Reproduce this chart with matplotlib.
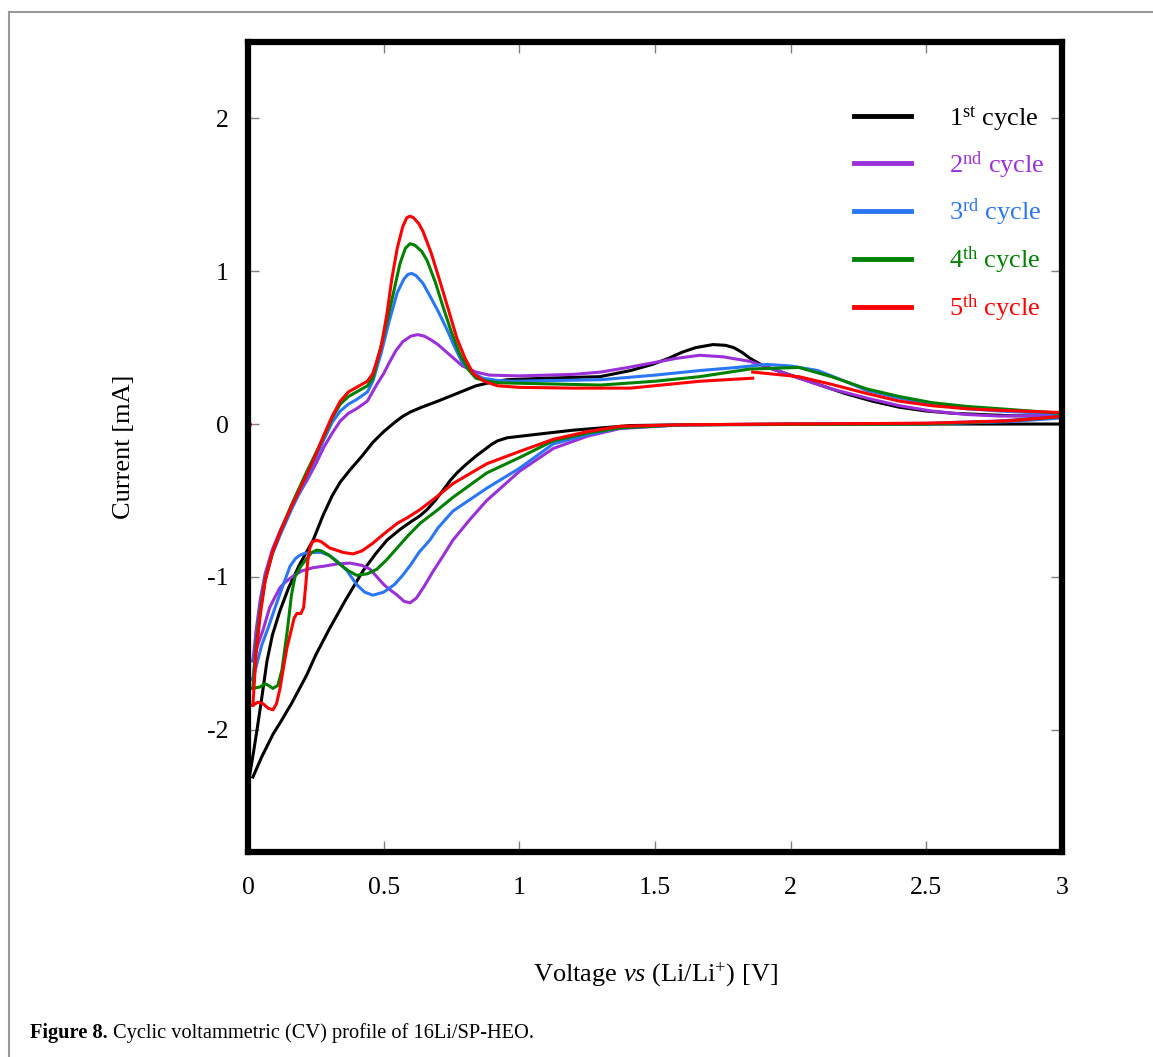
import numpy as np
import matplotlib
matplotlib.use("Agg")
import matplotlib.pyplot as plt
from matplotlib.lines import Line2D

plt.rcParams['font.family'] = ['Liberation Serif', 'DejaVu Serif']
plt.rcParams['mathtext.fontset'] = 'custom'
plt.rcParams['mathtext.rm'] = 'Liberation Serif'
plt.rcParams['mathtext.it'] = 'Liberation Serif:italic'
plt.rcParams['axes.unicode_minus'] = False

# ---- data (voltage [V], current [mA]) ----
# each cycle: anodic sweep 0 -> 3 V, then cathodic sweep 3 -> 0 V
v1 = [0.005, 0.02, 0.035, 0.05, 0.07, 0.09, 0.118, 0.15, 0.19, 0.24, 0.276, 0.31, 0.34, 0.376, 0.42,
      0.46, 0.50, 0.54, 0.57, 0.60, 0.64, 0.70, 0.77, 0.84, 0.90, 0.955, 1.1, 1.297, 1.41, 1.49, 1.55,
      1.60, 1.65, 1.714, 1.76, 1.79, 1.82, 1.85, 1.9, 2.0, 2.1, 2.2, 2.3, 2.4, 2.5, 2.6, 2.8, 3.0,
      3.0, 2.5, 2.0, 1.6, 1.41, 1.2, 1.1, 0.955, 0.92, 0.90, 0.87, 0.84, 0.80, 0.77, 0.745, 0.72, 0.69,
      0.66, 0.634, 0.60, 0.56, 0.512, 0.47, 0.424, 0.36, 0.30, 0.25, 0.217, 0.16, 0.12, 0.092, 0.05, 0.018]
i1 = [-2.31, -2.15, -1.98, -1.80, -1.55, -1.38, -1.22, -1.07, -0.92, -0.76, -0.60, -0.47, -0.38, -0.30, -0.21,
      -0.12, -0.05, 0.01, 0.05, 0.08, 0.11, 0.15, 0.20, 0.25, 0.275, 0.29, 0.30, 0.31, 0.35, 0.39, 0.43,
      0.47, 0.50, 0.52, 0.515, 0.50, 0.47, 0.43, 0.38, 0.32, 0.26, 0.20, 0.15, 0.11, 0.085, 0.07, 0.055, 0.05,
      0.0, 0.0, 0.0, -0.005, -0.01, -0.04, -0.06, -0.09, -0.11, -0.13, -0.17, -0.21, -0.27, -0.32, -0.37, -0.43, -0.50,
      -0.56, -0.60, -0.64, -0.69, -0.76, -0.85, -0.96, -1.15, -1.34, -1.51, -1.64, -1.83, -1.95, -2.03, -2.18, -2.31]

v2 = [0.018, 0.03, 0.045, 0.063, 0.09, 0.118, 0.16, 0.217, 0.25, 0.28, 0.31, 0.34, 0.37, 0.40, 0.44,
      0.475, 0.50, 0.52, 0.545, 0.571, 0.60, 0.625, 0.65, 0.675, 0.70, 0.745, 0.79, 0.84, 0.89, 1.0, 1.1,
      1.2, 1.30, 1.40, 1.49, 1.58, 1.665, 1.75, 1.85, 1.95, 2.03, 2.15, 2.28, 2.40, 2.52, 2.65, 2.77, 2.9, 3.0,
      3.0, 2.77, 2.5, 2.0, 1.6, 1.37, 1.25, 1.125, 1.0, 0.88, 0.82, 0.755, 0.72, 0.68, 0.65, 0.62, 0.597,
      0.575, 0.55, 0.52, 0.50, 0.47, 0.45, 0.42, 0.376, 0.33, 0.28, 0.24, 0.20, 0.17, 0.14, 0.118, 0.10,
      0.08, 0.055, 0.035, 0.018]
i2 = [-1.55, -1.35, -1.15, -0.98, -0.82, -0.70, -0.54, -0.37, -0.26, -0.15, -0.06, 0.02, 0.07, 0.10, 0.15,
      0.26, 0.33, 0.40, 0.48, 0.54, 0.575, 0.585, 0.575, 0.55, 0.52, 0.45, 0.38, 0.34, 0.32, 0.315, 0.32,
      0.325, 0.34, 0.37, 0.40, 0.43, 0.45, 0.44, 0.41, 0.35, 0.30, 0.23, 0.17, 0.12, 0.085, 0.062, 0.052, 0.055, 0.065,
      0.05, 0.02, 0.005, 0.0, -0.005, -0.03, -0.08, -0.16, -0.31, -0.50, -0.62, -0.76, -0.86, -0.97, -1.06, -1.14, -1.17,
      -1.16, -1.12, -1.08, -1.05, -0.99, -0.95, -0.925, -0.91, -0.915, -0.93, -0.94, -0.96, -0.99, -1.03, -1.07, -1.13,
      -1.20, -1.35, -1.45, -1.55]

v3 = [0.018, 0.03, 0.045, 0.063, 0.09, 0.12, 0.16, 0.217, 0.25, 0.28, 0.31, 0.34, 0.37, 0.40, 0.44,
      0.46, 0.49, 0.52, 0.55, 0.575, 0.59, 0.604, 0.62, 0.645, 0.67, 0.70, 0.733, 0.76, 0.79, 0.83, 0.866,
      0.92, 0.977, 1.30, 1.50, 1.665, 1.80, 1.91, 2.0, 2.10, 2.20, 2.28, 2.40, 2.52, 2.65, 2.77, 3.0,
      3.0, 2.8, 2.5, 1.6, 1.37, 1.25, 1.125, 1.0, 0.88, 0.755, 0.70, 0.67, 0.63, 0.60, 0.57, 0.54, 0.50,
      0.46, 0.43, 0.40, 0.365, 0.33, 0.30, 0.27, 0.24, 0.21, 0.19, 0.175, 0.155, 0.13, 0.10, 0.075, 0.05, 0.018]
i3 = [-1.67, -1.45, -1.22, -1.02, -0.85, -0.72, -0.56, -0.35, -0.22, -0.10, 0.01, 0.085, 0.13, 0.16, 0.21,
      0.28, 0.46, 0.67, 0.86, 0.95, 0.98, 0.985, 0.97, 0.92, 0.84, 0.74, 0.62, 0.51, 0.40, 0.33, 0.30,
      0.285, 0.28, 0.29, 0.32, 0.35, 0.37, 0.39, 0.38, 0.35, 0.28, 0.22, 0.17, 0.13, 0.10, 0.085, 0.065,
      0.04, 0.015, 0.0, -0.005, -0.025, -0.07, -0.13, -0.29, -0.42, -0.57, -0.68, -0.76, -0.84, -0.92, -0.99, -1.05, -1.10,
      -1.12, -1.10, -1.05, -0.96, -0.90, -0.86, -0.84, -0.84, -0.845, -0.86, -0.88, -0.93, -1.05, -1.20, -1.33, -1.45, -1.67]

v4 = [0.018, 0.03, 0.045, 0.063, 0.09, 0.12, 0.16, 0.217, 0.25, 0.28, 0.31, 0.34, 0.37, 0.40, 0.44,
      0.46, 0.50, 0.535, 0.56, 0.58, 0.597, 0.615, 0.64, 0.66, 0.69, 0.72, 0.75, 0.78, 0.81, 0.84, 0.88,
      0.92, 1.30, 1.50, 1.665, 1.85, 2.03, 2.15, 2.28, 2.40, 2.52, 2.65, 2.77, 3.0,
      3.0, 2.8, 2.5, 1.6, 1.37, 1.25, 1.125, 1.0, 0.88, 0.755, 0.70, 0.634, 0.59, 0.55, 0.51, 0.475, 0.44,
      0.40, 0.37, 0.34, 0.30, 0.27, 0.254, 0.235, 0.217, 0.195, 0.173, 0.16, 0.145, 0.125, 0.11, 0.092,
      0.075, 0.063, 0.045, 0.018]
i4 = [-1.73, -1.45, -1.22, -1.02, -0.84, -0.70, -0.53, -0.31, -0.19, -0.08, 0.04, 0.13, 0.18, 0.21, 0.25,
      0.30, 0.58, 0.85, 1.05, 1.15, 1.18, 1.17, 1.13, 1.07, 0.93, 0.76, 0.60, 0.46, 0.36, 0.30, 0.28,
      0.27, 0.255, 0.28, 0.31, 0.36, 0.37, 0.31, 0.23, 0.18, 0.14, 0.115, 0.10, 0.07,
      0.05, 0.02, 0.0, -0.005, -0.025, -0.06, -0.11, -0.22, -0.32, -0.48, -0.56, -0.65, -0.73, -0.81, -0.89, -0.95, -0.98,
      -0.99, -0.96, -0.92, -0.86, -0.83, -0.825, -0.84, -0.88, -0.93, -1.00, -1.12, -1.35, -1.61, -1.71, -1.73,
      -1.71, -1.70, -1.72, -1.73]

v5 = [0.018, 0.03, 0.045, 0.063, 0.09, 0.12, 0.16, 0.217, 0.25, 0.28, 0.31, 0.34, 0.37, 0.40, 0.44,
      0.46, 0.49, 0.512, 0.53, 0.55, 0.57, 0.585, 0.597, 0.61, 0.63, 0.645, 0.675, 0.708, 0.74, 0.77, 0.80,
      0.83, 0.87, 0.92, 1.0, 1.2, 1.41, 1.665, 1.86, np.nan,
      1.86, 2.03, 2.15, 2.28, 2.40, 2.52, 2.65, 2.77, 3.0,
      3.0, 2.8, 2.5, 2.0, 1.6, 1.37, 1.25, 1.125, 1.0, 0.88, 0.755, 0.70, 0.634, 0.59, 0.55, 0.50, 0.46,
      0.42, 0.387, 0.35, 0.30, 0.27, 0.254, 0.238, 0.228, 0.22, 0.213, 0.205, 0.195, 0.18, 0.17, 0.155,
      0.144, 0.13, 0.118, 0.105, 0.092, 0.075, 0.055, 0.037, 0.018]
i5 = [-1.84, -1.50, -1.25, -1.03, -0.84, -0.70, -0.54, -0.33, -0.20, -0.07, 0.05, 0.15, 0.21, 0.24, 0.28,
      0.33, 0.50, 0.72, 0.95, 1.15, 1.29, 1.35, 1.36, 1.35, 1.31, 1.26, 1.12, 0.93, 0.74, 0.56, 0.43,
      0.33, 0.28, 0.25, 0.24, 0.235, 0.235, 0.28, 0.30, np.nan,
      0.34, 0.31, 0.26, 0.20, 0.15, 0.12, 0.10, 0.09, 0.075,
      0.05, 0.02, 0.005, 0.0, -0.005, -0.015, -0.05, -0.10, -0.18, -0.26, -0.39, -0.47, -0.56, -0.61, -0.65, -0.72, -0.78,
      -0.83, -0.85, -0.84, -0.81, -0.77, -0.76, -0.77, -0.81, -0.90, -1.05, -1.20, -1.24, -1.24, -1.27, -1.38,
      -1.46, -1.60, -1.73, -1.83, -1.87, -1.86, -1.83, -1.82, -1.84]

cycles = [(v1, i1), (v2, i2), (v3, i3), (v4, i4), (v5, i5)]
labels = [r'1$^{\mathrm{st}}$ cycle', r'2$^{\mathrm{nd}}$ cycle', r'3$^{\mathrm{rd}}$ cycle',
          r'4$^{\mathrm{th}}$ cycle', r'5$^{\mathrm{th}}$ cycle']
colors = ['black', '#9a30d8', '#2a76f4', '#008000', '#ff0000']

xticks = [0, 0.5, 1, 1.5, 2, 2.5, 3]
xticklabels = ['0', '0.5', '1', '1.5', '2', '2.5', '3']
yticks = [-2, -1, 0, 1, 2]

fig = plt.figure(figsize=(11.53, 10.57), dpi=100)
ax = fig.add_axes([0.2151, 0.1940, 0.7060, 0.7663])

for (v, i), c, lab in zip(cycles, colors, labels):
    ax.plot(v, i, '-', color=c, lw=2.2, label=lab)
ax.plot([0.004], [0.0], 'o', color='red', ms=2.5)

ax.set_xlim(0, 3)
ax.set_ylim(-2.8, 2.5)
ax.set_xticks(xticks)
ax.set_xticklabels(xticklabels)
ax.set_yticks(yticks)

for s in ax.spines.values():
    s.set_linewidth(4.5)
ax.tick_params(direction='in', length=8, width=1, color='#808080',
               top=True, right=True, labelsize=18.5)
ax.tick_params(axis='x', pad=18)
ax.tick_params(axis='y', pad=14)

ax.set_xlabel(r'Voltage $\mathit{vs}$ (Li/Li$^{+}$) [V]', fontsize=19, labelpad=44)
ax.set_ylabel('Current [mA]', fontsize=19, labelpad=52)

leg = ax.legend(loc='upper left', bbox_to_anchor=(0.728, 0.94), frameon=False,
                fontsize=19, handlelength=2.15, handletextpad=1.45, labelspacing=0.62,
                borderpad=0, labelcolor='linecolor')
for h in leg.legend_handles:
    h.set_linewidth(3.5)

# page frame lines and caption
fig.add_artist(Line2D([9 / 1153, 1], [1 - 12 / 1057] * 2, color='#999999', lw=1.5))
fig.add_artist(Line2D([9 / 1153] * 2, [0, 1 - 12 / 1057], color='#999999', lw=1.5))
fig.text(30 / 1153, 1 - 1033 / 1057, 'Figure 8.', fontsize=14.7, fontweight='bold', va='center')
fig.text(113 / 1153, 1 - 1033 / 1057, 'Cyclic voltammetric (CV) profile of 16Li/SP-HEO.',
         fontsize=14.7, va='center')

fig.savefig('out.png', dpi=100)
